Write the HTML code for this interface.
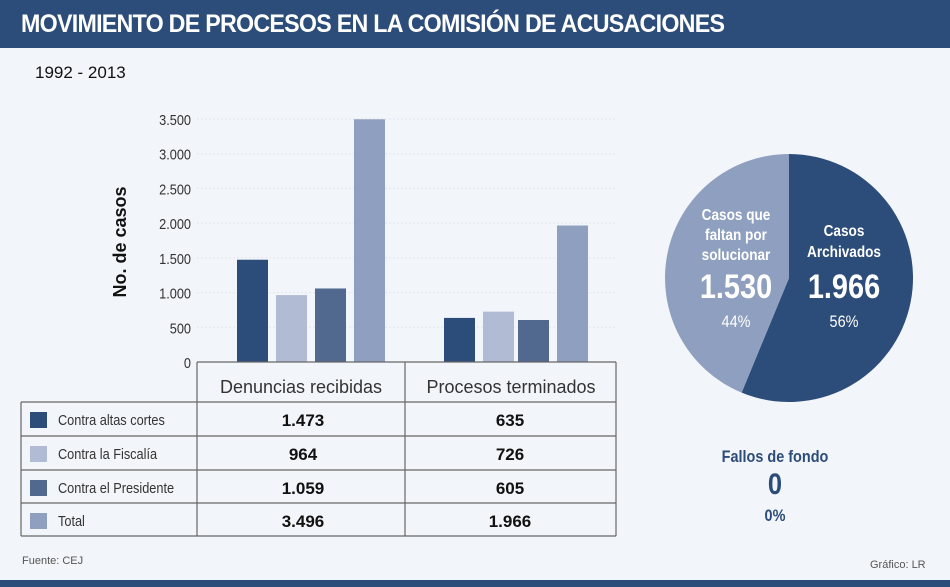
<!DOCTYPE html>
<html><head><meta charset="utf-8"><style>
body{margin:0;width:950px;height:587px;background:#f2f6fa;font-family:"Liberation Sans",sans-serif;position:relative;overflow:hidden}
.abs{position:absolute}
</style></head><body>
<div class="abs" style="left:0;top:0;width:950px;height:48px;background:#2c4c79"></div>
<div class="abs" style="left:21px;top:10px;color:#fff;font-weight:bold;font-size:25px;letter-spacing:-0.8px;transform:scaleX(0.93);transform-origin:left">MOVIMIENTO DE PROCESOS EN LA COMISIÓN DE ACUSACIONES</div>
<div class="abs" style="left:35px;top:63px;font-size:17px;color:#111">1992 - 2013</div>
<div class="abs" style="left:0;top:580px;width:950px;height:7px;background:#2c4c79"></div>
<div class="abs" style="left:22px;top:555px;font-size:11px;color:#555">Fuente: CEJ</div>
<div class="abs" style="left:870px;top:559px;font-size:11px;color:#555">Gráfico: LR</div>
<svg id="chart" class="abs" style="left:0;top:0" width="950" height="587"></svg>
<script>
const categories=["Denuncias recibidas","Procesos terminados"];
const seriesNames=["Contra altas cortes","Contra la Fiscalía","Contra el Presidente","Total"];
const altasCortes=[1473,635];
const fiscalia=[964,726];
const presidente=[1059,605];
const total=[3496,1966];
const valueLabels=[["1.473","635"],["964","726"],["1.059","605"],["3.496","1.966"]];
const yTicks=[0,500,1000,1500,2000,2500,3000,3500];
const yTickLabels=["0","500","1.000","1.500","2.000","2.500","3.000","3.500"];
const pieValues=[1966,1530];
const pieLabels=["1.966","1.530"];
const colors=["#2c4c79","#b1bbd3","#52698f","#8f9fbf"];
const NS="http://www.w3.org/2000/svg";
const svg=document.getElementById('chart');
function mk(t,a,p){const e=document.createElementNS(NS,t);for(const k in a)e.setAttribute(k,a[k]);(p||svg).appendChild(e);return e;}
const y0=362,yTop=119,yMax=3500;
const y=v=>y0-(y0-yTop)*v/yMax;
const groupStart=[237,444],barStep=[39,39],barW=31;
const series=[altasCortes,fiscalia,presidente,total];
// grid
yTicks.forEach((t,i)=>{
 if(t>0){const g=mk('line',{x1:197,x2:616,y1:y(t),y2:y(t),stroke:'#e2e6ee','stroke-dasharray':'2,2'});
 
 }
 const tx=mk('text',{x:191,y:y(t)+6,'text-anchor':'end','font-size':15,fill:'#333',transform:`translate(191 0) scale(0.85 1) translate(-191 0)`});
 tx.textContent=yTickLabels[i];
 
 
});
const yt=mk('text',{x:0,y:0,'font-size':18,'font-weight':'bold',fill:'#111','text-anchor':'middle',transform:'translate(126 242) rotate(-90)'});
yt.textContent='No. de casos';


// bars
series.forEach((s,si)=>{s.forEach((v,ci)=>{
 const r=mk('rect',{x:groupStart[ci]+si*barStep[ci]-(ci==1&&si>=2?4:0),y:y(v),width:barW,height:y0-y(v),fill:colors[si]});
 
 
});});
// table
const L='#666';
[[197,362,616,362],[197,362,197,536],[405,362,405,536],[616,362,616,536],[21,402,616,402],[21,436,616,436],[21,470,616,470],[21,503,616,503],[21,536,616,536],[21,402,21,536]].forEach(l=>{
 const e=mk('line',{x1:l[0],y1:l[1],x2:l[2],y2:l[3],stroke:L,'stroke-width':1.2});
 
 
});
categories.forEach((c,i)=>{
 const t=mk('text',{x:[301,511][i],y:393,'text-anchor':'middle','font-size':18,fill:'#333'});
 t.textContent=c;
 
 
});
const rowY=[402,436,470,503];
seriesNames.forEach((n,i)=>{
 const sw=mk('rect',{x:30,y:rowY[i]+10,width:17,height:16,fill:colors[i]});
 
 
 const t=mk('text',{x:58,y:rowY[i]+23,'font-size':15,fill:'#333',transform:`translate(58 0) scale(0.85 1) translate(-58 0)`});
 t.textContent=n;
 
 
 [0,1].forEach(ci=>{
  const v=mk('text',{x:[303,510][ci],y:rowY[i]+24,'text-anchor':'middle','font-size':17,'font-weight':'bold',fill:'#111'});
  v.textContent=valueLabels[i][ci];
  
  
 });
});
// pie
const cx=789,cy=278,R=124,tot=pieValues[0]+pieValues[1];
let a0=0;
const pieColors=['#2c4c79','#8f9fbf'];
pieValues.forEach((v,i)=>{
 const a1=a0+v/tot*2*Math.PI;
 const p=(a)=>[cx+R*Math.sin(a),cy-R*Math.cos(a)];
 const [x0,y0_]=p(a0),[x1,y1]=p(a1);
 const s=mk('path',{d:`M${cx},${cy} L${x0},${y0_} A${R},${R} 0 ${a1-a0>Math.PI?1:0} 1 ${x1},${y1} Z`,fill:pieColors[i]});
 
 
 a0=a1;
});
function txt(x,yy,s,size,bold,fill,name){
 const t=mk('text',{x:x,y:yy,'text-anchor':'middle','font-size':size,'font-weight':bold?'bold':'normal',fill:fill,transform:`translate(${x} 0) scale(0.85 1) translate(${-x} 0)`});
 t.textContent=s;
 
 
}
const pct=v=>Math.round(v/tot*100)+'%';
txt(844,236,'Casos',16,1,'#fff','pie-label-archived');
txt(844,257,'Archivados',16,1,'#fff','pie-label-archived');
txt(844,298,pieLabels[0],34,1,'#fff','pie-value-archived');
txt(844,327,pct(pieValues[0]),17,0,'#fff','pie-percent-archived');
txt(736,220,'Casos que',16,1,'#fff','pie-label-pending');
txt(736,240,'faltan por',16,1,'#fff','pie-label-pending');
txt(736,260,'solucionar',16,1,'#fff','pie-label-pending');
txt(736,298,pieLabels[1],34,1,'#fff','pie-value-pending');
txt(736,327,pct(pieValues[1]),17,0,'#fff','pie-percent-pending');
txt(775,462,'Fallos de fondo',17,1,'#2c4c79','fallos-label');
txt(775,494,'0',30,1,'#2c4c79','fallos-value');
txt(775,521,'0%',17,1,'#2c4c79','fallos-percent');
</script>
</body></html>
